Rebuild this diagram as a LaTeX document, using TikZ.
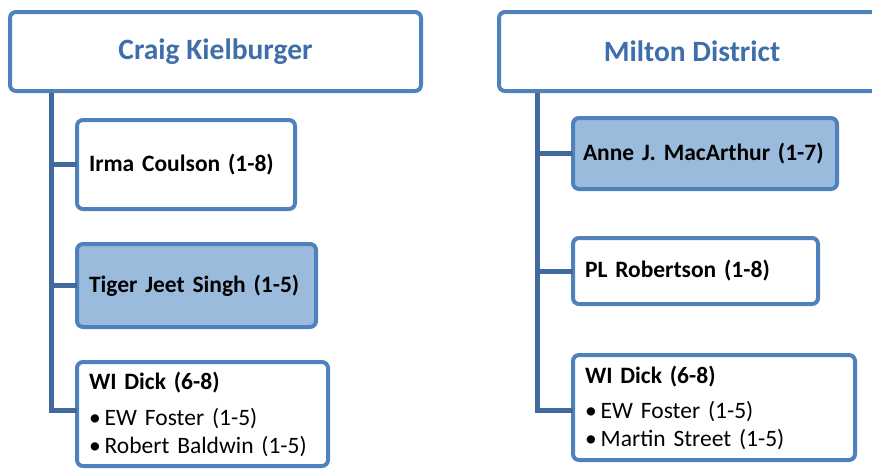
\documentclass[tikz,border=0pt]{standalone}
\usepackage{fontspec}
\setmainfont{Carlito}
\usepackage{xcolor}
\usetikzlibrary{positioning}
\definecolor{boxblue}{HTML}{4F81BD}
\definecolor{linkblue}{HTML}{41699D}
\definecolor{fillblue}{HTML}{9BBBDD}
\definecolor{titleblue}{HTML}{3F6FAA}
\tikzset{
  box/.style={draw=boxblue, line width=4pt, rounded corners=6pt, fill=white,
    anchor=north west, outer sep=0pt, inner xsep=12pt, inner ysep=0pt, align=left,
    font=\fontsize{23.5}{28}\selectfont\bfseries},
  shaded/.style={box, fill=fillblue},
  rootbox/.style={box, align=center, inner xsep=0pt,
    font=\fontsize{29.5}{34}\selectfont\bfseries, text=titleblue},
  link/.style={draw=linkblue, line width=5pt}
}
\newcommand{\schoolitem}[1]{\normalfont\textbullet\hspace{4pt}#1}
\begin{document}
\begin{tikzpicture}[x=1pt, y=-1pt]
		\useasboundingbox (0,0) rectangle (872,472);
		\clip (0,0) rectangle (872,472);
		% left column
		\draw (10,12) node[rootbox, minimum width=411pt, minimum height=79pt] (lroot) {Craig Kielburger}
		(77,120) node[box, text width=194pt, minimum height=89pt] (irma) {Irma Coulson (1-8)}
		(77,244) node[shaded, text width=215pt, minimum height=83pt] (tiger) {Tiger Jeet Singh (1-5)}
		(77,362) node[box, text width=227pt, minimum height=104pt] (ldick) {WI Dick (6-8)\\[5pt]
			\fontsize{23.5}{31}\selectfont\schoolitem{EW Foster (1-5)}\\
			\schoolitem{Robert Baldwin (1-5)}};
		% right column
		\draw (499,12) node[rootbox, minimum width=386pt, minimum height=79pt] (rroot) {Milton District}
		(573,118) node[shaded, inner xsep=10pt, text width=244pt, minimum height=71pt] (anne) {\mbox{Anne J. MacArthur (1-7)}}
		(573,238) node[box, text width=221pt, minimum height=66pt] (pl) {PL Robertson (1-8)}
		(573,355) node[box, text width=258pt, minimum height=105pt] (rdick) {WI Dick (6-8)\\[5pt]
			\fontsize{23.5}{30}\selectfont\schoolitem{EW Foster (1-5)}\\
			\schoolitem{Martin Street (1-5)}};
		
		\coordinate (ltop) at (51,93);
		\coordinate (rtop) at (537,93);
		\draw[link] (ltop) |- (irma.west);
		\draw[link] (ltop) |- (tiger.west);
		\draw[link] (ltop) |- ([yshift=4pt]ldick.west);
		\draw[link] (rtop) |- (anne.west);
		\draw[link] (rtop) |- (pl.west);
		\draw[link] (rtop) |- ([yshift=-3pt]rdick.west);
	\end{tikzpicture}
\end{document}
